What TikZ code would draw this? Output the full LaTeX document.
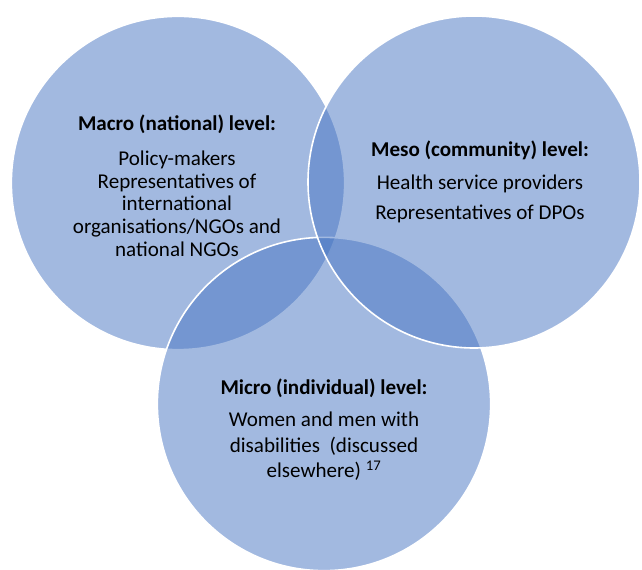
\documentclass[tikz,border=0pt]{standalone}
\usepackage{fontspec}
\setmainfont{Carlito}
\usepackage{tikz}
\usetikzlibrary{positioning}

\definecolor{vennblue}{RGB}{70,116,194}

\tikzset{
  venn/.style={circle, draw=white, line width=1.2pt, fill=vennblue,
    fill opacity=0.5, minimum size=250pt, inner sep=0pt},
  levelhead/.style={font=\bfseries\fontsize{15.8}{17}\selectfont, inner sep=0pt},
  levelbody/.style={font=\fontsize{15.8}{17}\selectfont, align=center, inner sep=0pt},
}

\begin{document}
\begin{tikzpicture}[x=0.75pt, y=-0.75pt]
  \useasboundingbox (0,0) rectangle (642,570);

  % the three levels: left, bottom, then right on top
  \node[venn] (macro) at (178,183) {};
  \node[venn] (micro) at (324,404) {};
  \node[venn, minimum size=249pt] (meso) at (474,182) {};

  % macro level
  \node[levelhead, anchor=base] (macrohead) at (177,131) {Macro (national) level:};
  \node[levelbody, below=12pt of macrohead] (macrobody)
    {Policy-makers\\Representatives of\\international\\organisations/NGOs and\\national NGOs};

  % meso level
  \node[levelhead, anchor=base] (mesohead) at (480,156.7) {Meso (community) level:};
  \node[levelbody, below=10.5pt of mesohead] (mesobody)
    {Health service providers\\[6pt]Representatives of DPOs};

  % micro level
  \node[levelhead, anchor=base] (microhead) at (324,394) {Micro (individual) level:};
  \node[levelbody, below=10.5pt of microhead] (microbody)
    {Women and men with\\[2.5pt]disabilities~ (discussed\\[2pt]elsewhere) \textsuperscript{17}};
\end{tikzpicture}
\end{document}
